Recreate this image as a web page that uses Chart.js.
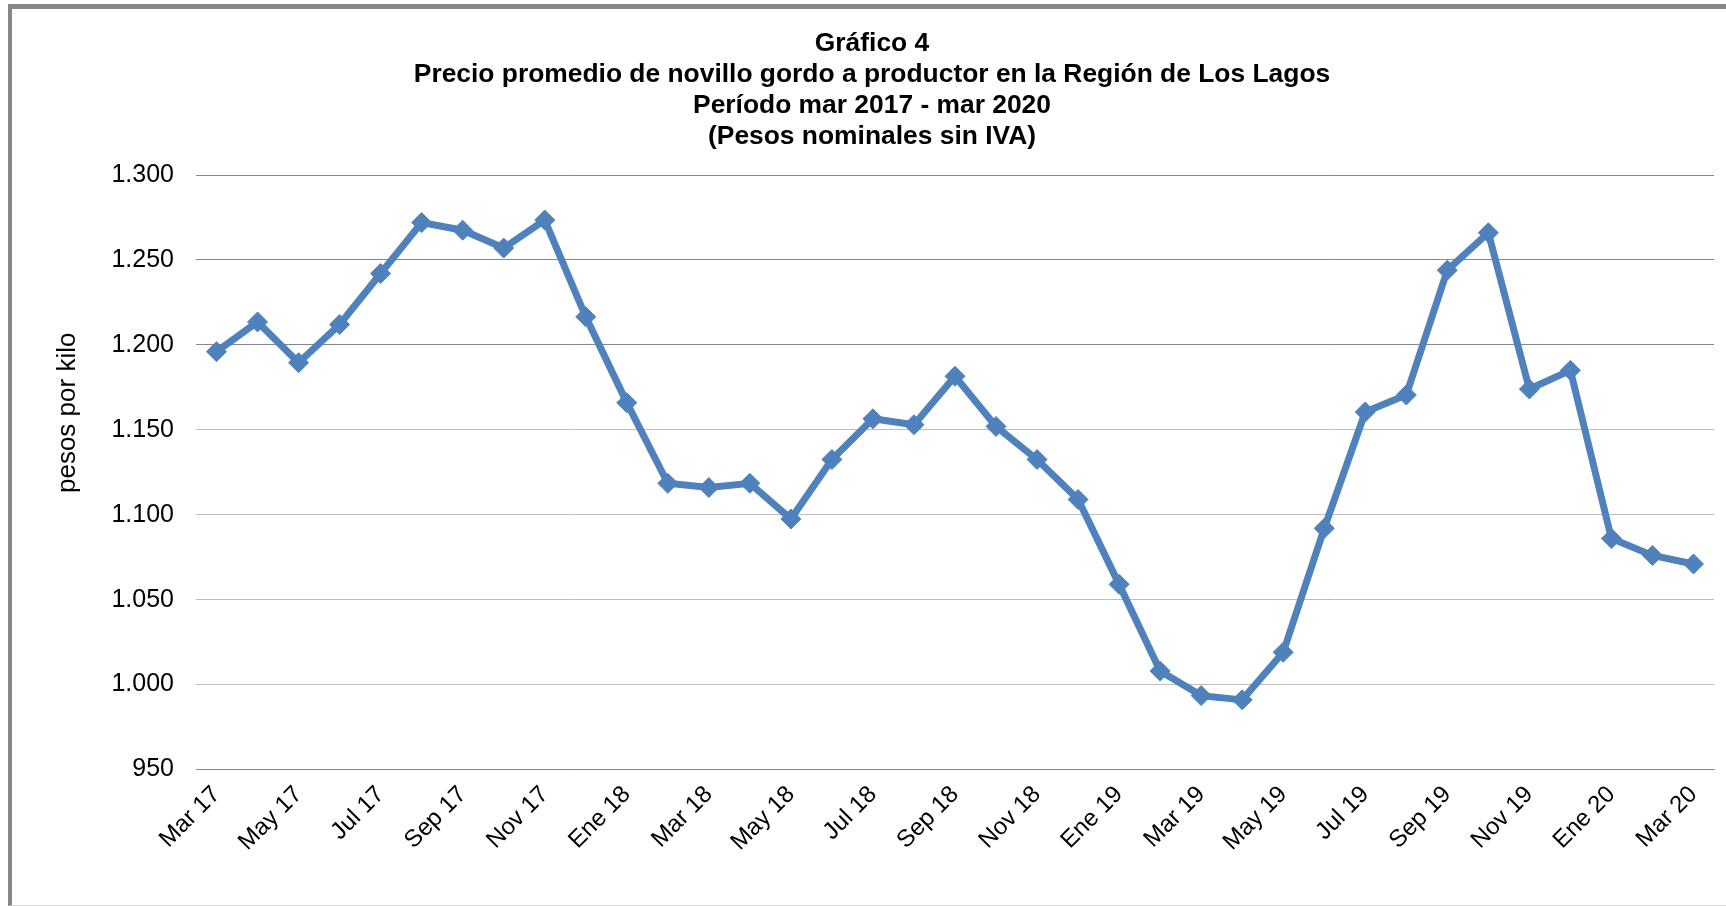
<!DOCTYPE html>
<html>
<head>
<meta charset="utf-8">
<script src="https://cdn.jsdelivr.net/npm/chart.js@4/dist/chart.umd.min.js"></script>
<style>
  html, body { margin: 0; padding: 0; background: #fff; }
  #wrap { position: relative; width: 1726px; height: 906px; overflow: hidden; }
  #c { position: absolute; left: 0; top: 0; }
  #frame { position: absolute; left: 8px; top: 4px; width: 1730px; height: 896px;
           border-left: 4px solid #878787; border-top: 5px solid #878787;
           border-bottom: 1px solid #d4d4d4; pointer-events: none; }
</style>
</head>
<body>
<div id="wrap">
  <canvas id="c" width="1726" height="906"></canvas>
  <div id="frame"></div>
</div>
<script>
const titleLines = [
  'Gráfico 4',
  'Precio promedio de novillo gordo a productor en la Región de Los Lagos',
  'Período mar 2017 - mar 2020',
  '(Pesos nominales sin IVA)'
];
const yAxisTitle = 'pesos por kilo';

const months = [
  'Mar 17','Abr 17','May 17','Jun 17','Jul 17','Ago 17','Sep 17','Oct 17','Nov 17','Dic 17',
  'Ene 18','Feb 18','Mar 18','Abr 18','May 18','Jun 18','Jul 18','Ago 18','Sep 18','Oct 18','Nov 18','Dic 18',
  'Ene 19','Feb 19','Mar 19','Abr 19','May 19','Jun 19','Jul 19','Ago 19','Sep 19','Oct 19','Nov 19','Dic 19',
  'Ene 20','Feb 20','Mar 20'
];

const precio = [
  1196, 1213.5, 1189.5, 1212, 1242, 1272, 1267.5, 1257, 1273.5, 1216.5,
  1166, 1118.5, 1116, 1118.5, 1097.5, 1132.5, 1156.5, 1153, 1181.5, 1152, 1132.5, 1109,
  1059, 1008, 993.5, 991, 1019, 1092, 1160.5, 1170.5, 1244, 1266, 1174, 1185,
  1086, 1076, 1071
];

const yMin = 950, yMax = 1300, yStep = 50;

function fmtMiles(v) {
  if (v >= 1000) {
    return Math.floor(v / 1000) + '.' + String(Math.round(v % 1000)).padStart(3, '0');
  }
  return String(v);
}

const FONT = '"Liberation Sans", Arial, sans-serif';

const yTitlePlugin = {
  id: 'yTitlePlugin',
  afterDraw(chart) {
    const ctx = chart.ctx;
    const area = chart.chartArea;
    ctx.save();
    ctx.translate(68, area.top + (area.bottom - area.top) * 0.40);
    ctx.rotate(-Math.PI / 2);
    ctx.font = '26px ' + FONT;
    ctx.fillStyle = '#000';
    ctx.textAlign = 'center';
    ctx.textBaseline = 'middle';
    ctx.fillText(yAxisTitle, 0, 0);
    ctx.restore();
  }
};

new Chart(document.getElementById('c'), {
  type: 'line',
  data: {
    labels: months,
    datasets: [{
      data: precio,
      borderColor: '#4f81bd',
      backgroundColor: '#4f81bd',
      borderWidth: 7,
      pointStyle: 'rectRot',
      pointRadius: 10,
      pointBorderWidth: 1,
      pointBackgroundColor: '#4f81bd',
      pointBorderColor: '#4f81bd',
      tension: 0,
      fill: false
    }]
  },
  options: {
    responsive: false,
    animation: false,
    layout: { padding: { left: 30, right: 12, top: 0, bottom: 0 } },
    plugins: {
      legend: { display: false },
      tooltip: { enabled: false },
      title: {
        display: true,
        text: titleLines,
        color: '#000',
        font: { family: FONT, size: 26.4, weight: 'bold', lineHeight: 1.167 },
        padding: { top: 28.8, bottom: 23 }
      }
    },
    scales: {
      x: {
        offset: true,
        grid: { display: false, drawTicks: false },
        border: { display: true, color: '#878787', width: 1 },
        ticks: {
          autoSkip: false,
          maxRotation: 45,
          minRotation: 45,
          padding: 11,
          color: '#000',
          font: { family: FONT, size: 24 },
          callback: function (val, idx) { return idx % 2 === 0 ? this.getLabelForValue(val) : ''; }
        },
        afterFit: (s) => { s.height = 906 - 769.5; }
      },
      y: {
        min: yMin,
        max: yMax,
        border: { display: false },
        grid: {
          drawTicks: false,
          lineWidth: 1,
          color: (c) => {
            const v = c.tick ? c.tick.value : 0;
            return (v >= 1200 || v <= 950) ? '#878787' : '#bdbdbd';
          }
        },
        ticks: {
          stepSize: yStep,
          padding: 22,
          color: '#000',
          font: { family: FONT, size: 25 },
          callback: (v) => fmtMiles(v)
        },
        afterFit: (s) => { s.width = 196 - 30; }
      }
    }
  },
  plugins: [yTitlePlugin]
});
</script>
</body>
</html>
